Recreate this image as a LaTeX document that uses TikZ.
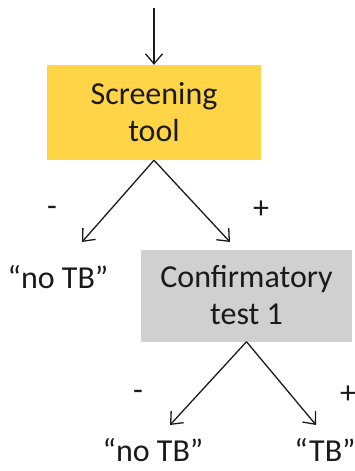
\documentclass[tikz,border=0pt]{standalone}
\usepackage{fontspec}
\setmainfont{Carlito}
\usetikzlibrary{arrows.meta}
\definecolor{boxyellow}{HTML}{FFD447}
\definecolor{boxgray}{HTML}{D0D0D0}
\definecolor{ink}{HTML}{1A1A1A}
\begin{document}
\begin{tikzpicture}[x=1pt,y=-1pt,
  every node/.style={font=\fontsize{32}{37}\selectfont, text=ink, inner sep=0pt, align=center},
  link/.style={draw=ink, line width=1.3pt, -{Straight Barb[length=10pt,width=17pt,line width=1.3pt]}},
  sign/.style={font=\fontsize{32}{37}\selectfont}
]
\useasboundingbox (0,0) rectangle (355,471);
\coordinate (in) at (154,8);
\node[fill=boxyellow, minimum width=214pt, minimum height=95pt] (s1) at (154,112.5) {Screening\\tool};
\node[fill=boxgray, minimum width=211pt, minimum height=92pt] (s2) at (246.5,295.5) {Confirmatory\\test 1};
\node (n1) at (58,277) {“no TB”};
\node (n2) at (153,450) {“no TB”};
\node (t2) at (325,450) {“TB”};
\node[sign] (m1) at (52,211) {-};
\node[sign] (p1) at (261,210) {+};
\node[sign] (m2) at (138,395) {-};
\node[sign] (p2) at (348,395) {+};
\coordinate (e1) at (82,242);
\coordinate (e2) at (230,242);
\coordinate (e3) at (170,425);
\coordinate (e4) at (316,425);
\draw[link] (in) -- (s1.north);
\draw[link] (s1.south) -- (e1);
\draw[link] (s1.south) -- (e2);
\draw[link] (s2.south) -- (e3);
\draw[link] (s2.south) -- (e4);
\end{tikzpicture}
\end{document}
